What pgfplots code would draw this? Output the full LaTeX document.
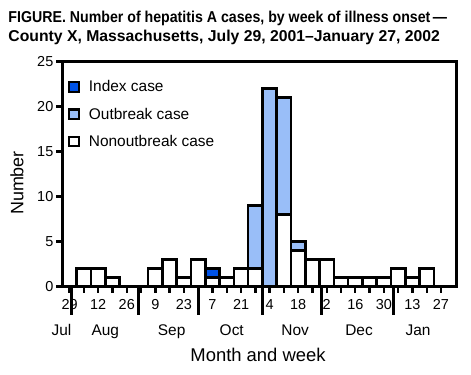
\documentclass[border=0pt]{standalone}
\usepackage{fontspec}
\setmainfont{Liberation Sans}
\usepackage{graphicx}
\usepackage{pgfplots}
\pgfplotsset{compat=1.18}
\definecolor{idx}{RGB}{0,82,230}
\definecolor{outb}{RGB}{153,190,248}
\pgfplotsset{sq/.style={legend image code/.code={\draw[##1, line width=2.2bp] (0bp,-4.75bp) rectangle (9.5bp,4.75bp);}}}
\begin{document}
\begin{tikzpicture}
\useasboundingbox (0,0) rectangle (471bp,375bp);
\node[anchor=base west, inner sep=0pt, font=\bfseries\fontsize{15.8}{19}\selectfont] at (8.3bp,352.3bp) {\scalebox{0.9}[1]{FIGURE. Number of hepatitis A cases, by week of illness onset\,—}};
\node[anchor=base west, inner sep=0pt, font=\bfseries\fontsize{15.8}{19}\selectfont] at (8.3bp,333.3bp) {County X, Massachusetts, July 29, 2001–January 27, 2002};
\begin{axis}[
  at={(62.5bp,88.3bp)}, anchor=south west,
  scale only axis, width=394.2bp, height=225bp,
  xmin=-0.5, xmax=27.1, ymin=0, ymax=25,
  ybar stacked, bar width=1,
  clip=false,
  axis line style={line width=2.8bp},
  tick pos=left, tick align=outside,
  every tick/.style={black, line width=2.4bp},
  major tick length=6bp,
  /pgf/number format/assume math mode=true,
  ytick={0,5,10,15,20,25},
  yticklabel style={font=\fontsize{14.5}{17}\selectfont, inner sep=0pt, xshift=-3bp},
  xtick={0,...,26},
  xticklabels={29,,12,,26,,9,,23,,7,,21,,4,,18,,2,,16,,30,,13,,27},
  xticklabel style={font=\fontsize{14.5}{17}\selectfont, inner sep=0pt, yshift=-7bp},
  extra x ticks={0.13,4.85,9.05,13.52,17.66,22.66},
  extra x tick labels={},
  extra x tick style={major tick length=28bp, every tick/.style={black, line width=3bp}},
  xlabel={Month and week},
  xlabel style={at={(axis description cs:0.496,-0.3333)}, anchor=base, font=\fontsize{18.5}{22}\selectfont},
  ylabel={Number},
  ylabel style={at={(axis description cs:-0.0994,0.461)}, anchor=base, font=\fontsize{18}{22}\selectfont},
  reverse legend,
  legend cell align=left,
  legend style={at={(axis description cs:0.014,0.925)}, anchor=north west, draw=none, fill=none,
    font=\fontsize{15.5}{18}\selectfont, row sep=10.5bp, column sep=7bp, inner sep=0pt},
]
\addplot[fill=white, draw=black, line width=2.6bp, sq] coordinates {
(0,0) (1,2) (2,2) (3,1) (4,0) (5,0) (6,2) (7,3) (8,1) (9,3) (10,1) (11,1) (12,2) (13,2)
(14,0) (15,8) (16,4) (17,3) (18,3) (19,1) (20,1) (21,1) (22,1) (23,2) (24,1) (25,2) (26,0)};
\addlegendentry{Nonoutbreak case}
\addplot[fill=outb, draw=black, line width=2.6bp, sq] coordinates {
(0,0) (1,0) (2,0) (3,0) (4,0) (5,0) (6,0) (7,0) (8,0) (9,0) (10,0) (11,0) (12,0) (13,7)
(14,22) (15,13) (16,1) (17,0) (18,0) (19,0) (20,0) (21,0) (22,0) (23,0) (24,0) (25,0) (26,0)};
\addlegendentry{Outbreak case}
\addplot[fill=idx, draw=black, line width=2.6bp, sq] coordinates {
(0,0) (1,0) (2,0) (3,0) (4,0) (5,0) (6,0) (7,0) (8,0) (9,0) (10,1) (11,0) (12,0) (13,0)
(14,0) (15,0) (16,0) (17,0) (18,0) (19,0) (20,0) (21,0) (22,0) (23,0) (24,0) (25,0) (26,0)};
\addlegendentry{Index case}
\node[anchor=base, font=\fontsize{15.5}{18}\selectfont] at (axis cs:-0.57,0) [yshift=-48.3bp] {Jul};
\node[anchor=base, font=\fontsize{15.5}{18}\selectfont] at (axis cs:2.5,0) [yshift=-48.3bp] {Aug};
\node[anchor=base, font=\fontsize{15.5}{18}\selectfont] at (axis cs:7.14,0) [yshift=-48.3bp] {Sep};
\node[anchor=base, font=\fontsize{15.5}{18}\selectfont] at (axis cs:11.35,0) [yshift=-48.3bp] {Oct};
\node[anchor=base, font=\fontsize{15.5}{18}\selectfont] at (axis cs:15.79,0) [yshift=-48.3bp] {Nov};
\node[anchor=base, font=\fontsize{15.5}{18}\selectfont] at (axis cs:20.26,0) [yshift=-48.3bp] {Dec};
\node[anchor=base, font=\fontsize{15.5}{18}\selectfont] at (axis cs:24.4,0) [yshift=-48.3bp] {Jan};
\end{axis}
\end{tikzpicture}
\end{document}
